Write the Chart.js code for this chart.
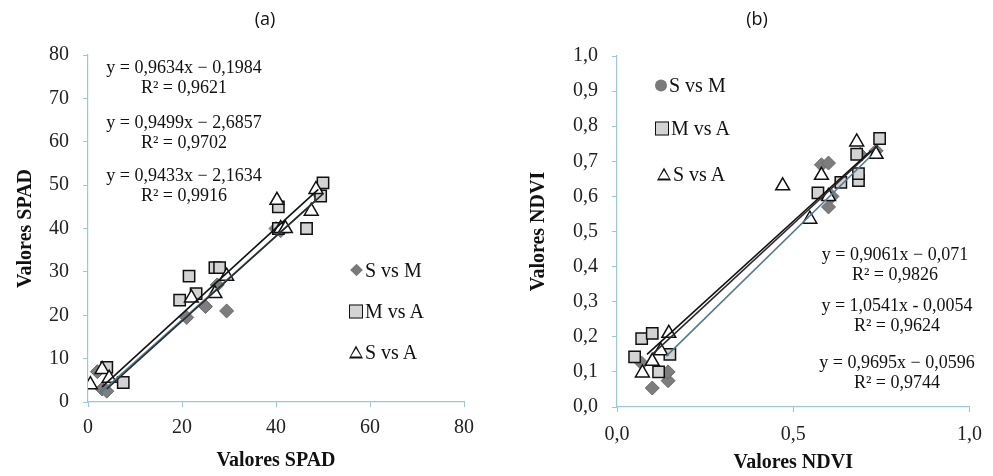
<!DOCTYPE html>
<html>
<head>
<meta charset="utf-8">
<script src="https://cdn.jsdelivr.net/npm/chart.js@4"></script>
<style>
  body { margin: 0; background: #fff; }
  .wrap { position: relative; width: 993px; height: 476px; overflow: hidden; }
  .panel { position: absolute; top: 0; }
  .txt { position: absolute; font-family: "Liberation Serif", serif; color: #111; white-space: nowrap; }
  .eq { font-size: 18px; text-align: center; transform: translate(-50%, -50%); line-height: 20px; }
  .cap { font-family: "Open Sans", "Liberation Sans", sans-serif; font-size: 18px; transform: translate(-50%, -50%); }
  .leg { font-size: 20px; transform: translateY(-50%); display: flex; align-items: center; }
  .mk { display: inline-block; margin-right: 2px; }
  .mk.dia { width: 9px; height: 9px; background: #7a7a7a; transform: rotate(45deg); margin: 0 4px 0 2px; }
  .mk.cir { width: 12px; height: 12px; background: #7a7a7a; border-radius: 50%; }
  .mk.sq { width: 14px; height: 14px; background: #d3d3d3; border: 1.5px solid #111; box-sizing: border-box; }
  .mk.tri { width: 0; height: 0; border-left: 7px solid transparent; border-right: 7px solid transparent; border-bottom: 13px solid #111; position: relative; }
  .mk.tri::after { content: ""; position: absolute; left: -5px; top: 3px; border-left: 5px solid transparent; border-right: 5px solid transparent; border-bottom: 8.5px solid #fff; }
</style>
</head>
<body>
<div class="wrap">
  <div class="panel" style="left:0"><canvas id="spad" width="490" height="476"></canvas></div>
  <div class="panel" style="left:490px"><canvas id="ndvi" width="503" height="476"></canvas></div>

  <div class="txt cap" style="left:265px;top:18px">(a)</div>
  <div class="txt cap" style="left:757px;top:18px">(b)</div>

  <div class="txt eq" style="left:184px;top:77px">y = 0,9634x − 0,1984<br>R² = 0,9621</div>
  <div class="txt eq" style="left:184px;top:132px">y = 0,9499x − 2,6857<br>R² = 0,9702</div>
  <div class="txt eq" style="left:184px;top:185px">y = 0,9433x − 2,1634<br>R² = 0,9916</div>

  <div class="txt eq" style="left:895px;top:264px">y = 0,9061x − 0,071<br>R² = 0,9826</div>
  <div class="txt eq" style="left:897px;top:315px">y = 1,0541x - 0,0054<br>R² = 0,9624</div>
  <div class="txt eq" style="left:897px;top:372px">y = 0,9695x − 0,0596<br>R² = 0,9744</div>

  <div class="txt leg" style="left:350px;top:270px"><span class="mk dia"></span>S vs M</div>
  <div class="txt leg" style="left:349px;top:311px"><span class="mk sq"></span>M vs A</div>
  <div class="txt leg" style="left:349px;top:352px"><span class="mk tri"></span>S vs A</div>

  <div class="txt leg" style="left:655px;top:85px"><span class="mk cir"></span>S vs M</div>
  <div class="txt leg" style="left:655px;top:128px"><span class="mk sq"></span>M vs A</div>
  <div class="txt leg" style="left:657px;top:174px"><span class="mk tri"></span>S vs A</div>
</div>
<script>
// (a) SPAD readings
const spadSMx = [2, 3, 4, 21, 25, 29.5, 27.5, 40, 41, 49];
const spadSMy = [7, 3, 2.5, 19.5, 22, 21, 27, 40, 39.5, 48];
const spadMAx = [4, 7.5, 21.5, 19.5, 23, 27, 28, 40.5, 40.5, 46.5, 50, 49.5];
const spadMAy = [8, 4.5, 29, 23.5, 25, 31, 31, 45, 40, 40, 50.5, 47.5];
const spadSAx = [0.5, 3, 4.5, 22, 27, 29.5, 40.2, 41, 42, 47.5, 48.5];
const spadSAy = [4, 7.5, 5.5, 24, 25, 29, 46.5, 40, 40, 44, 49];
// trend line ends
const spadTrendX = [[3, 49], [4, 50], [2.5, 48.5]];
const spadTrendY = [[3.5, 49], [3, 48], [2, 46.5]];

// (b) NDVI readings
const ndviSMx = [0.1, 0.145, 0.145, 0.07, 0.58, 0.6, 0.6, 0.61, 0.69, 0.735];
const ndviSMy = [0.054, 0.075, 0.1, 0.125, 0.69, 0.695, 0.57, 0.6, 0.72, 0.73];
const ndviMAx = [0.07, 0.05, 0.1, 0.118, 0.15, 0.57, 0.635, 0.685, 0.685, 0.745, 0.68];
const ndviMAy = [0.195, 0.143, 0.21, 0.1, 0.15, 0.61, 0.64, 0.645, 0.665, 0.765, 0.72];
const ndviSAx = [0.47, 0.147, 0.124, 0.072, 0.1, 0.547, 0.68, 0.735, 0.58, 0.6];
const ndviSAy = [0.63, 0.21, 0.16, 0.097, 0.13, 0.535, 0.755, 0.72, 0.66, 0.6];
const ndviTrendX = [[0.085, 0.72], [0.1, 0.74], [0.14, 0.72]];
const ndviTrendY = [[0.15, 0.73], [0.15, 0.745], [0.145, 0.715]];

const axisColor = "#9cc8d2";
const trendColors = ["#111", "#2a2a2a", "#55798a"];

function pts(xs, ys) {
  return xs.map((x, i) => ({ x: x, y: ys[i] }));
}

function trend(xs, ys, color) {
  return {
    type: "line",
    data: pts(xs, ys),
    borderColor: color,
    borderWidth: 1.6,
    pointRadius: 0,
    order: 0,
  };
}

function scatterSets(sm, ma, sa) {
  return [
    { data: sm, pointStyle: "rectRot", pointRadius: 7, backgroundColor: "#7d7d7d", borderColor: "#6a6a6a", borderWidth: 1, order: 3 },
    { data: ma, pointStyle: "rect", pointRadius: 8, backgroundColor: "#d3d3d3", borderColor: "#111", borderWidth: 1.5, order: 2 },
    { data: sa, pointStyle: "triangle", pointRadius: 8, backgroundColor: "#fff", borderColor: "#111", borderWidth: 1.5, order: 1 },
  ];
}

function axis(opts) {
  const tickFont = { family: "Liberation Serif", size: 20 };
  const titleFont = { family: "Liberation Serif", size: 20, weight: "bold" };
  return {
    type: "linear",
    min: opts.min,
    max: opts.max,
    afterFit: opts.fit,
    border: { color: axisColor, width: 1.2 },
    grid: { drawOnChartArea: false, drawTicks: true, tickLength: 5, color: axisColor },
    ticks: {
      stepSize: opts.step,
      color: "#222",
      font: tickFont,
      padding: opts.pad,
      callback: opts.fmt,
    },
    title: { display: true, text: opts.title, color: "#111", font: titleFont, padding: opts.titlePad },
  };
}

const comma = (v) => v.toFixed(1).replace(".", ",");

new Chart(document.getElementById("spad"), {
  type: "scatter",
  data: {
    datasets: [
      ...scatterSets(pts(spadSMx, spadSMy), pts(spadMAx, spadMAy), pts(spadSAx, spadSAy)),
      ...spadTrendX.map((xs, i) => trend(xs, spadTrendY[i], trendColors[i])),
    ],
  },
  options: {
    responsive: false,
    animation: false,
    layout: { padding: { left: 0, right: 26, top: 55, bottom: 0 } },
    plugins: { legend: { display: false }, tooltip: { enabled: false } },
    scales: {
      x: axis({ min: 0, max: 80, step: 20, pad: 9, title: "Valores SPAD", titlePad: { top: 0, bottom: 3 },
        fit: (s) => { s.height = 74; } }),
      y: axis({ min: 0, max: 80, step: 10, pad: 14, title: "Valores SPAD", titlePad: { top: 14, bottom: 0 },
        fit: (s) => { s.width = 88; } }),
    },
  },
});

new Chart(document.getElementById("ndvi"), {
  type: "scatter",
  data: {
    datasets: [
      ...scatterSets(pts(ndviSMx, ndviSMy), pts(ndviMAx, ndviMAy), pts(ndviSAx, ndviSAy)),
      ...ndviTrendX.map((xs, i) => trend(xs, ndviTrendY[i], trendColors[i])),
    ],
  },
  options: {
    responsive: false,
    animation: false,
    layout: { padding: { left: 0, right: 14, top: 56, bottom: 0 } },
    plugins: { legend: { display: false }, tooltip: { enabled: false } },
    scales: {
      x: axis({ min: 0, max: 1, step: 0.5, pad: 11, fmt: comma, title: "Valores NDVI", titlePad: { top: 0, bottom: 1 },
        fit: (s) => { s.height = 69; } }),
      y: axis({ min: 0, max: 1, step: 0.1, pad: 14, fmt: comma, title: "Valores NDVI", titlePad: { top: 37, bottom: 0 },
        fit: (s) => { s.width = 127; } }),
    },
  },
});
</script>
</body>
</html>
